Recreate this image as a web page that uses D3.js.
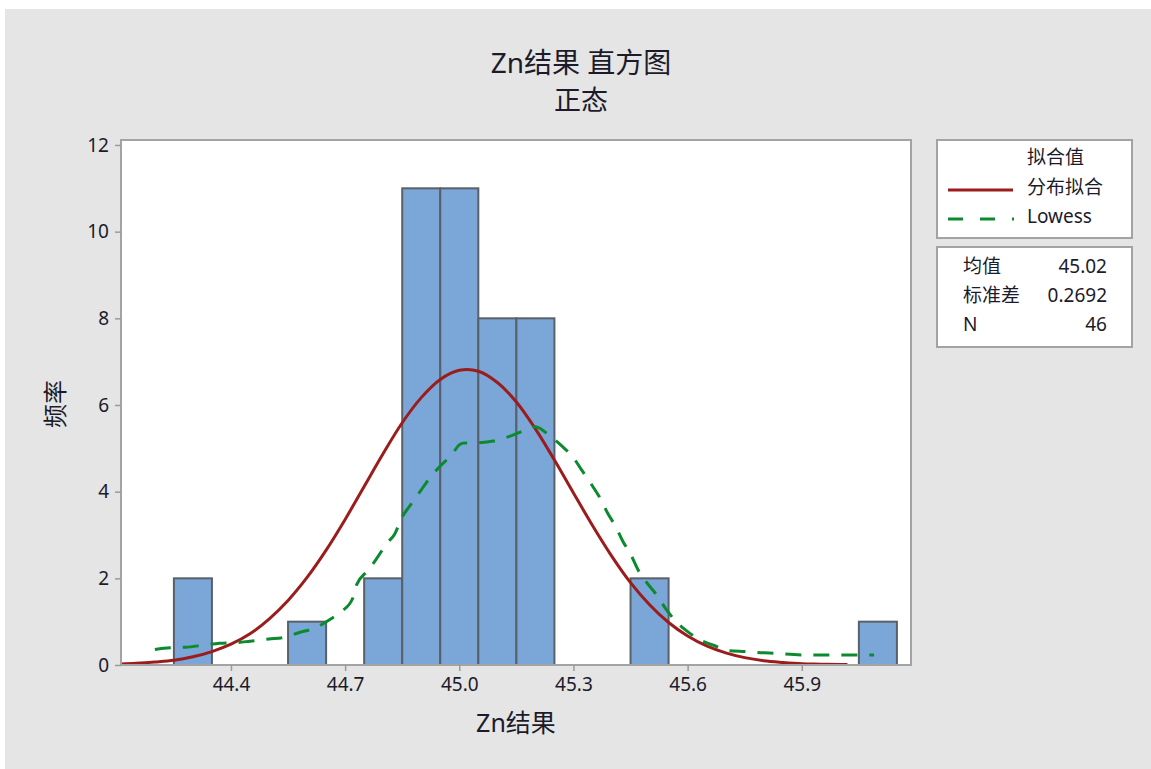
<!DOCTYPE html>
<html><head><meta charset="utf-8">
<script src="https://cdn.jsdelivr.net/npm/d3@7"></script>
<style>
html,body{margin:0;padding:0;background:#fff;}
svg{display:block;font-family:"Noto Sans","Noto Sans CJK SC",sans-serif;}
</style></head>
<body><svg id="c" width="1151" height="769"></svg>
<script>
// ---- data ----
const binCenters = [44.3, 44.6, 44.8, 44.9, 45.0, 45.1, 45.2, 45.5, 46.1];
const binCounts  = [2, 1, 2, 11, 11, 8, 8, 2, 1];
const binWidth = 0.1;
const xTicks = [44.4, 44.7, 45.0, 45.3, 45.6, 45.9];
const yTicks = [0, 2, 4, 6, 8, 10, 12];
// fitted normal curve
const fitX = [44.10,44.15,44.20,44.25,44.30,44.35,44.40,44.45,44.50,44.55,44.60,44.65,44.70,44.75,44.80,44.85,44.90,44.95,45.00,45.05,45.10,45.15,45.20,45.25,45.30,45.35,45.40,45.45,45.50,45.55,45.60,45.65,45.70,45.75,45.80,45.85,45.90,45.95,46.00,46.02];
const fitY = [0.02,0.04,0.07,0.11,0.19,0.31,0.48,0.72,1.06,1.49,2.02,2.65,3.36,4.12,4.88,5.59,6.17,6.59,6.80,6.78,6.52,6.07,5.45,4.73,3.97,3.22,2.52,1.90,1.39,0.98,0.67,0.44,0.28,0.17,0.10,0.06,0.03,0.02,0.01,0.01];
// lowess curve
const lowX = [44.20,44.24,44.28,44.33,44.37,44.42,44.45,44.50,44.54,44.58,44.62,44.66,44.69,44.72,44.73,44.76,44.78,44.81,44.83,44.85,44.87,44.90,44.92,44.95,44.98,45.00,45.01,45.05,45.09,45.13,45.17,45.20,45.24,45.27,45.30,45.32,45.35,45.37,45.39,45.41,45.43,45.45,45.47,45.49,45.52,45.54,45.57,45.60,45.63,45.67,45.71,45.75,45.80,45.83,45.88,45.92,46.01,46.09];
const lowY = [0.36,0.40,0.41,0.46,0.50,0.52,0.55,0.60,0.64,0.75,0.85,1.05,1.23,1.54,1.85,2.18,2.42,2.81,3.02,3.42,3.67,4.04,4.29,4.59,4.85,5.08,5.12,5.13,5.17,5.27,5.41,5.50,5.27,5.05,4.78,4.52,4.13,3.85,3.50,3.21,2.85,2.56,2.19,1.93,1.60,1.33,1.00,0.77,0.59,0.45,0.33,0.31,0.28,0.27,0.24,0.23,0.23,0.23];
const statLabels = ["均值", "标准差", "N"];
const statValues = ["45.02", "0.2692", "46"];
const legendLabels = ["拟合值", "分布拟合", "Lowess"];

// ---- layout ----
const svg = d3.select("#c");
const L = 121, R = 911, T = 140, B = 665;
const x = d3.scaleLinear().domain([44.111, 46.187]).range([L, R]);
const y = d3.scaleLinear().domain([0, 12.115]).range([B, T]);
const txt = "#1b1b2b";

svg.append("rect").attr("x",0).attr("y",0).attr("width",1151).attr("height",769).attr("fill","#fff");
svg.append("rect").attr("x",5).attr("y",9).attr("width",1146).attr("height",760).attr("fill","#e5e5e5");

// titles
svg.append("text").attr("x",581).attr("y",73).attr("text-anchor","middle").attr("font-size",28).attr("fill",txt).text("Zn结果 直方图");
svg.append("text").attr("x",581).attr("y",110).attr("text-anchor","middle").attr("font-size",27).attr("fill",txt).text("正态");

// plot area
svg.append("rect").attr("x",L).attr("y",T).attr("width",R-L).attr("height",B-T).attr("fill","#fff");
svg.append("clipPath").attr("id","clip").append("rect").attr("x",L).attr("y",T).attr("width",R-L).attr("height",B-T);

const g = svg.append("g").attr("clip-path","url(#clip)");
g.selectAll("rect.bar").data(binCenters).join("rect").attr("class","bar")
  .attr("x", d => x(d - binWidth/2))
  .attr("width", d => x(d + binWidth/2) - x(d - binWidth/2))
  .attr("y", (d,i) => y(binCounts[i]))
  .attr("height", (d,i) => y(0) - y(binCounts[i]))
  .attr("fill","#7ba6d8").attr("stroke","#5a6068").attr("stroke-width",2);

const fitLine = d3.line().x((d,i)=>x(fitX[i])).y((d,i)=>y(fitY[i])).curve(d3.curveCatmullRom.alpha(0.5));
g.append("path").attr("d", fitLine(fitX)).attr("fill","none").attr("stroke","#9b1c1c").attr("stroke-width",3);
const lowLine = d3.line().x((d,i)=>x(lowX[i])).y((d,i)=>y(lowY[i])).curve(d3.curveMonotoneX);
g.append("path").attr("d", lowLine(lowX)).attr("fill","none").attr("stroke","#0b8a2e").attr("stroke-width",3).attr("stroke-dasharray","16,12");

// frame
svg.append("rect").attr("x",L).attr("y",T).attr("width",R-L).attr("height",B-T).attr("fill","none").attr("stroke","#a3a3a3").attr("stroke-width",2);

// axes
const ya = svg.append("g").attr("transform",`translate(${L},0)`)
  .call(d3.axisLeft(y).tickValues(yTicks).tickSize(6).tickPadding(6).tickFormat(d3.format("d")));
const xa = svg.append("g").attr("transform",`translate(0,${B})`)
  .call(d3.axisBottom(x).tickValues(xTicks).tickSize(6).tickPadding(7).tickFormat(d3.format(".1f")));
[ya,xa].forEach(a=>{
  a.select(".domain").remove();
  a.selectAll("line").attr("stroke","#9a9a9a").attr("stroke-width",1.5);
  a.selectAll("text").attr("font-size",19).attr("fill",txt).attr("font-family","'Noto Sans',sans-serif");
});

svg.append("text").attr("x",516).attr("y",732).attr("text-anchor","middle").attr("font-size",25).attr("fill",txt).text("Zn结果");
svg.append("text").attr("transform","translate(64,404) rotate(-90)").attr("text-anchor","middle").attr("font-size",24).attr("fill",txt).text("频率");

// legend box 1
svg.append("rect").attr("x",937).attr("y",140).attr("width",195).attr("height",98).attr("fill","#fff").attr("stroke","#a3a3a3").attr("stroke-width",2);
const legY = [157, 187, 216];
legendLabels.forEach((s,i)=>{
  svg.append("text").attr("x",1027).attr("y",legY[i]).attr("dy","0.35em").attr("font-size",19).attr("fill",txt).text(s);
});
svg.append("line").attr("x1",948).attr("x2",1013).attr("y1",190).attr("y2",190).attr("stroke","#9b1c1c").attr("stroke-width",3);
svg.append("line").attr("x1",948).attr("x2",1014).attr("y1",219).attr("y2",219).attr("stroke","#0b8a2e").attr("stroke-width",3).attr("stroke-dasharray","15,17");

// legend box 2
svg.append("rect").attr("x",937).attr("y",247).attr("width",195).attr("height",100).attr("fill","#fff").attr("stroke","#a3a3a3").attr("stroke-width",2);
const statY = [266, 295, 324];
statLabels.forEach((s,i)=>{
  svg.append("text").attr("x",963).attr("y",statY[i]).attr("dy","0.35em").attr("font-size",19).attr("fill",txt).text(s);
  svg.append("text").attr("x",1107).attr("y",statY[i]).attr("dy","0.35em").attr("text-anchor","end").attr("font-size",19).attr("fill",txt).text(statValues[i]);
});
</script></body></html>
